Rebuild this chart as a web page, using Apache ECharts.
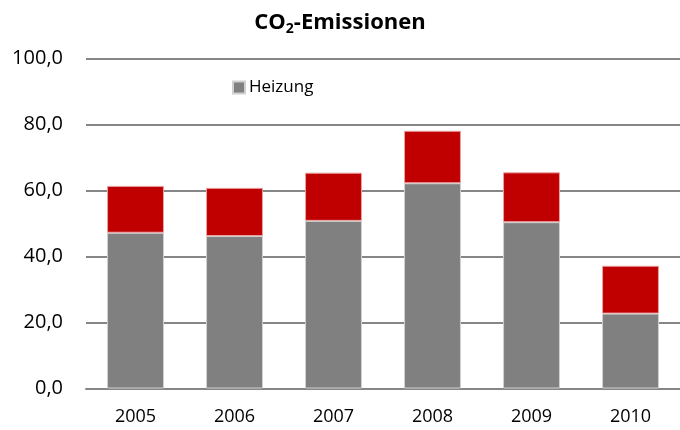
<!DOCTYPE html>
<html>
<head>
<meta charset="utf-8">
<script src="https://cdn.jsdelivr.net/npm/echarts@6/dist/echarts.min.js"></script>
<style>
  html, body { margin: 0; padding: 0; background: #fff; }
  #chart { width: 680px; height: 430px; }
</style>
</head>
<body>
<div id="chart"></div>
<script>
// Jahre und Werte der CO2-Emissionen (gestapelt)
const years = ['2005', '2006', '2007', '2008', '2009', '2010'];
const heizung = [47.2, 46.2, 50.8, 62.2, 50.4, 22.7];
const strom = [14.2, 14.6, 14.6, 15.9, 15.1, 14.5];
const yTicks = [0, 20, 40, 60, 80, 100];

const font = '"Open Sans", "Noto Sans", sans-serif';

const chart = echarts.init(document.getElementById('chart'));
chart.setOption({
  animation: false,
  title: {
    text: '{b|CO}{s|2}{b|-Emissionen}',
    left: 'center',
    top: 5,
    textStyle: {
      rich: {
        b: { fontFamily: font, fontWeight: 'bold', fontSize: 22, color: '#000' },
        s: { fontFamily: font, fontWeight: 'bold', fontSize: 14, color: '#000', verticalAlign: 'bottom', padding: [12, 0, 0, 0] }
      }
    }
  },
  legend: {
    data: ['Heizung'],
    left: 227,
    top: 74,
    itemWidth: 12,
    itemHeight: 12,
    itemGap: 4,
    icon: 'rect',
    textStyle: { fontFamily: font, fontSize: 17, color: '#000', padding: [0, 0, 0, -1] }
  },
  grid: { left: 86, right: 0, top: 58.5, bottom: 41.5, containLabel: false },
  xAxis: {
    type: 'category',
    data: years,
    axisLine: { lineStyle: { color: '#868686', width: 2 } },
    axisTick: { show: false },
    axisLabel: { fontFamily: font, fontSize: 18, color: '#000', margin: 19 }
  },
  yAxis: {
    type: 'value',
    min: yTicks[0],
    max: yTicks[yTicks.length - 1],
    interval: 20,
    axisLine: { show: false },
    axisTick: { show: false },
    splitLine: { lineStyle: { color: '#868686', width: 2 } },
    axisLabel: {
      fontFamily: font, fontSize: 20, color: '#000', margin: 23,
      formatter: v => v.toFixed(1).replace('.', ',')
    }
  },
  series: [
    {
      name: 'Heizung',
      type: 'bar',
      stack: 'co2',
      data: heizung,
      barWidth: '57.5%',
      itemStyle: { color: '#808080', borderColor: '#d0d0d0', borderWidth: 1 }
    },
    {
      name: 'Strom',
      type: 'bar',
      stack: 'co2',
      data: strom,
      barWidth: '57.5%',
      itemStyle: { color: '#c00000', borderColor: '#e8a0a0', borderWidth: 1 }
    }
  ]
});
</script>
</body>
</html>
